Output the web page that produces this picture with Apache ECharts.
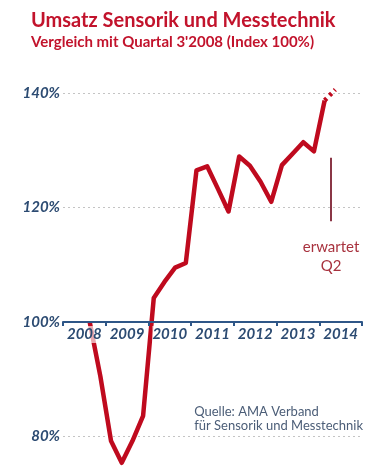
<!DOCTYPE html>
<html><head><meta charset="utf-8">
<script src="https://cdn.jsdelivr.net/npm/echarts@6/dist/echarts.min.js"></script>
<style>html,body{margin:0;padding:0;background:#fff}#c{width:381px;height:475px}</style>
</head><body><div id="c"></div>
<script>
// ---- data ----
const years = ['2008','2009','2010','2011','2012','2013','2014'];
const startQuarter = 2; // first value is 2008 Q3 (0 = 2008 Q1)
const indexValues = [100, 90.5, 79.2, 75.4, 79.2, 83.6, 104.2, 107.0, 109.5, 110.3,
  126.5, 127.2, 123.3, 119.3, 128.9, 127.3, 124.5, 121.0, 127.4, 129.4, 131.4, 129.8, 138.7];
const expectedQuarter = 25; // 2014 Q2
const expectedValue = 140.6;
const yTicks = [80, 100, 120, 140];
const base = 100;

const red = '#bf0a1e';
const blue = '#2c4b72';
const lineData = indexValues.map((v, i) => [startQuarter + i + 0.5, v - base]);
const lastIdx = indexValues.length - 1;
const expData = [[startQuarter + lastIdx + 0.5, indexValues[lastIdx] - base], [expectedQuarter + 0.5, expectedValue - base]];

const yMin = -40, yMax = 40;
const gridTop = 93, gridHeight = 458;
// the year axis sits on the base (100%) line: its grid ends where value 0 falls on the main scale
const yearGridHeight = gridHeight * (yMax - 0) / (yMax - yMin);

const chart = echarts.init(document.getElementById('c'));
chart.setOption({
  animation: false,
  textStyle: { fontFamily: 'Lato' },
  title: {
    text: 'Umsatz Sensorik und Messtechnik',
    subtext: "Vergleich mit Quartal 3'2008 (Index 100%)",
    left: 26, top: 6, itemGap: 4,
    textStyle: { fontFamily: 'Lato', fontWeight: 'bold', fontSize: 20, color: '#c2132c' },
    subtextStyle: { fontFamily: 'Lato', fontWeight: 'bold', fontSize: 15, color: '#c2132c' }
  },
  grid: [
    { left: 63, right: 19, top: gridTop, height: gridHeight, outerBoundsMode: 'none', containLabel: false },
    { left: 63, right: 19, top: gridTop, height: yearGridHeight, outerBoundsMode: 'none', containLabel: false }
  ],
  xAxis: [{
    type: 'value', gridIndex: 0, min: 0, max: years.length * 4, show: false
  }, {
    type: 'category', gridIndex: 1, data: years, position: 'bottom', boundaryGap: true, z: 5,
    axisLine: { onZero: false, lineStyle: { color: '#2e5687', width: 2 } },
    axisTick: { show: true, interval: 0, length: 4, lineStyle: { color: '#2e5687', width: 2 } },
    axisLabel: { interval: 0, hideOverlap: false, margin: 4, fontFamily: 'Lato', fontStyle: 'italic', fontWeight: 'bold', fontSize: 15,
      color: blue, backgroundColor: 'rgba(255,255,255,0.65)', padding: [1, 0] },
    splitLine: { show: false }
  }],
  yAxis: [{
    type: 'value', gridIndex: 0, min: yMin, max: yMax, interval: 20,
    axisLine: { show: false }, axisTick: { show: false },
    axisLabel: { margin: 3, fontFamily: 'Lato', fontStyle: 'italic', fontWeight: 'bold', fontSize: 15, color: blue,
      formatter: v => yTicks.includes(v + base) ? (v + base) + '%' : '' },
    splitLine: { lineStyle: { color: '#c4c4c4', type: [2, 3], width: 1 } }
  }, {
    type: 'value', gridIndex: 1, min: 0, max: yMax, show: false
  }],
  series: [{
    type: 'line', xAxisIndex: 0, yAxisIndex: 0, data: lineData, symbol: 'none', clip: false, z: 3,
    lineStyle: { color: red, width: 4.5, join: 'round' }
  }, {
    type: 'line', xAxisIndex: 0, yAxisIndex: 0, data: expData, symbol: 'none', clip: false, z: 3,
    lineStyle: { color: red, width: 4.5, type: [3, 4] },
    markLine: {
      silent: true, symbol: 'none',
      lineStyle: { color: '#8a3646', width: 2, type: 'solid' },
      label: { show: true, position: 'start', distance: 16, formatter: 'erwartet\nQ2',
        fontFamily: 'Lato', fontSize: 15, color: '#a8323e', lineHeight: 19, align: 'center' },
      data: [[{ coord: [expectedQuarter + 0.1, 117.6 - base] }, { coord: [expectedQuarter + 0.1, 128.7 - base] }]]
    }
  }],
  graphic: [{
    type: 'text', right: 18, top: 405,
    style: { text: 'Quelle: AMA Verband\nfür Sensorik und Messtechnik', align: 'right',
      font: '13px Lato', fill: '#4b5d77', lineHeight: 14 }
  }]
});
</script></body></html>
